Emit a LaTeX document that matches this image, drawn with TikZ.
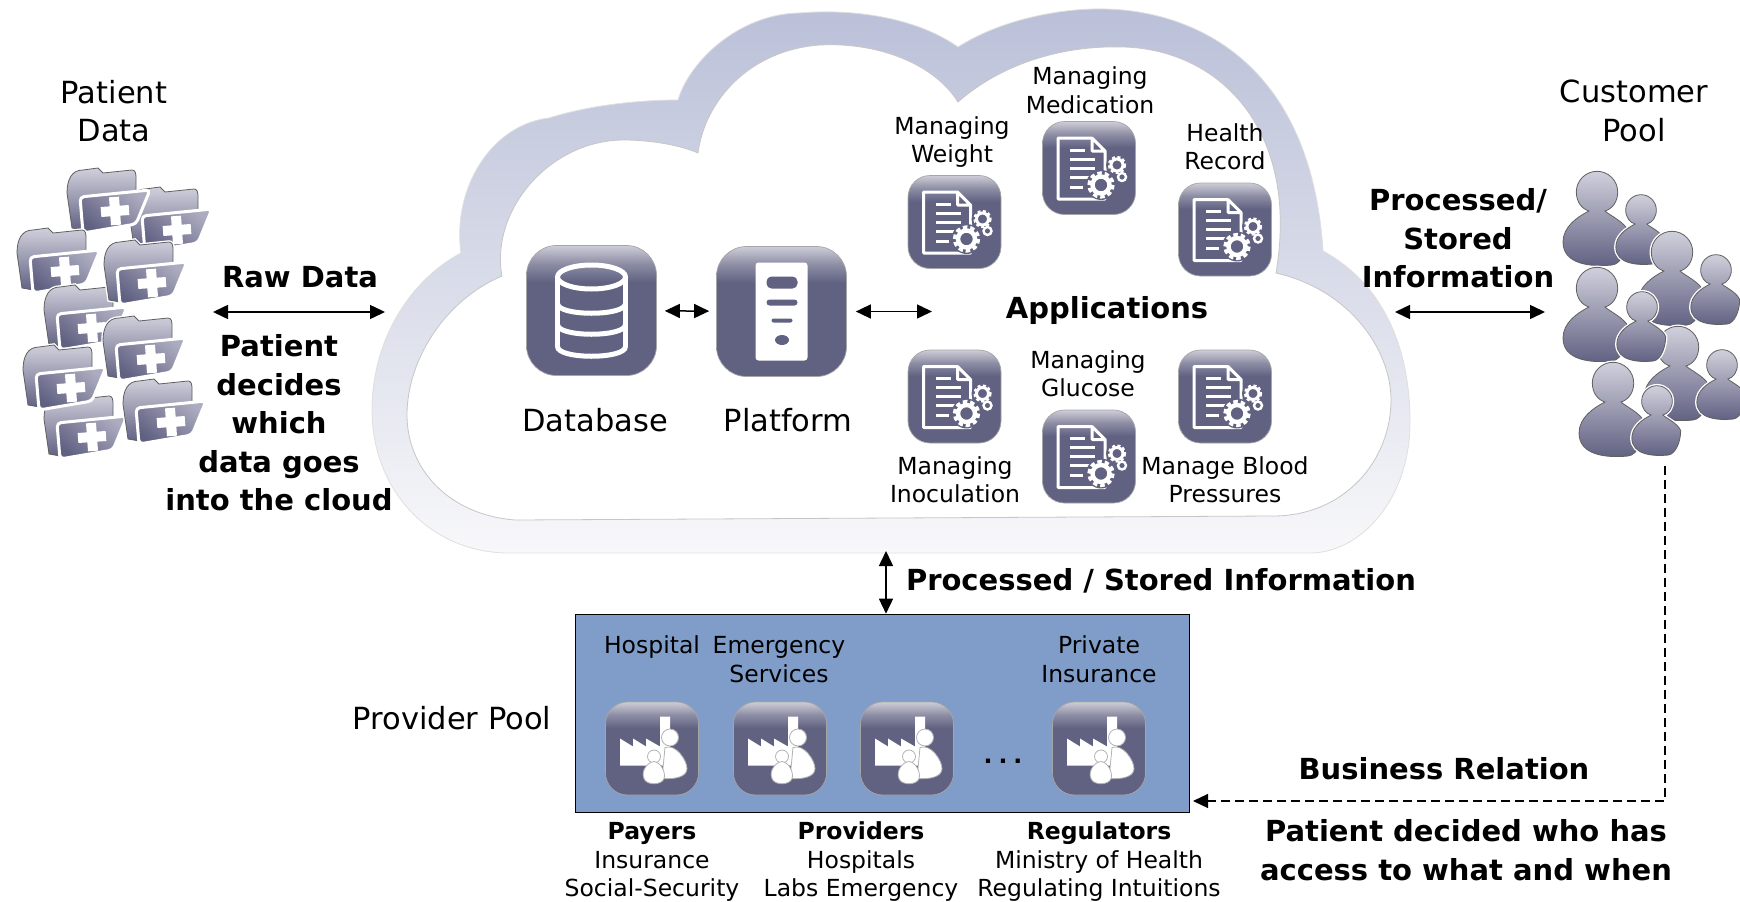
\documentclass[tikz,border=0pt]{standalone}
\usepackage{fontspec}
\setmainfont{DejaVu Sans}
\usepackage{tikz}
\usetikzlibrary{arrows.meta}
\definecolor{iconbody}{RGB}{97,98,130}
\definecolor{iconlight}{RGB}{205,205,216}
\definecolor{glyphlight}{RGB}{208,208,220}
\definecolor{glyphdark}{RGB}{96,96,130}
\definecolor{folderlight}{RGB}{172,172,192}
\definecolor{ringtop}{RGB}{186,192,216}
\definecolor{ringmid}{RGB}{222,225,236}
\definecolor{ringbot}{RGB}{248,248,250}
\definecolor{boxfill}{RGB}{128,157,201}
\pgfdeclareverticalshading{iconshade}{100bp}{color(0bp)=(iconbody); color(61bp)=(iconbody); color(68bp)=(iconbody!60!iconlight); color(75bp)=(iconlight); color(100bp)=(iconlight)}
\tikzset{
	bigtext/.style={align=center,inner sep=0pt,font=\fontsize{30.5}{38.5}\selectfont},
	bigbold/.style={align=center,inner sep=0pt,font=\fontsize{29}{38.5}\selectfont\bfseries},
	smalltext/.style={align=center,inner sep=0pt,font=\fontsize{23.5}{28.5}\selectfont},
	bigicon/.style={shading=iconshade,draw=gray!70,line width=.7pt,rounded corners=30pt,minimum size=130pt,inner sep=0pt},
	smallicon/.style={shading=iconshade,draw=gray!70,line width=.7pt,rounded corners=22pt,minimum size=93pt,inner sep=0pt},
	linkarrow/.style={line width=1.5pt,{Stealth[inset=0pt,length=15pt,width=14pt]}-{Stealth[inset=0pt,length=15pt,width=14pt]}},
	dashlink/.style={line width=1.3pt,dash pattern=on 9pt off 5pt,-{Stealth[inset=0pt,length=15pt,width=14pt]}},
	glyphfill/.style={draw=gray!75!black,line width=.8pt,top color=glyphlight,bottom color=glyphdark,preaction={draw=white,line width=3.5pt}}
}
% document with gears
\newcommand{\appglyph}[1]{
	\begin{scope}[shift={(#1.center)}]
		\draw[white,line width=3pt,line join=round] (3,-30) -- (-31,-30) -- (-31,31) -- (16,31) -- (16,-17) -- (3,-30) -- (3,-17) -- (16,-17);
		\foreach \yy/\xe in {-18/-4,-9/6,0/6,9/1,19/-6}
			\draw[white,line width=3pt] (-19,\yy) -- (\xe,\yy);
		\fill[iconbody] (12,17) circle (15) (28,-3) circle (11) (33,9) circle (7);
		\draw[white,line width=4.4pt] (12,17) circle (8.5);
		\draw[white,line width=3.4pt,dash pattern=on 4.5pt off 3pt] (12,17) circle (12);
		\draw[white,line width=3pt] (28,-3) circle (6);
		\draw[white,line width=2.2pt,dash pattern=on 3pt off 2.4pt] (28,-3) circle (8);
		\draw[white,line width=2.4pt] (33,9) circle (4);
	\end{scope}
}
% factory with two people
\newcommand{\orgglyph}[1]{
	\begin{scope}[shift={(#1.center)}]
		\fill[white] (-32,17) -- (-32,-10) -- (-19,-2) -- (-19,-10) -- (-6,-2) -- (-6,-10) -- (8,-2) -- (8,-32) -- (18,-32) -- (18,17) -- cycle;
		\path[fill=white,draw=gray!60,line width=.8pt] (18,-11) circle (8.5);
		\path[fill=white,draw=gray!60,line width=.8pt] (13,-1) .. controls (24,-5) and (35,12) .. (35,20) .. controls (35,28) and (24,31) .. (10,30) -- cycle;
		\path[fill=white,draw=gray!60,line width=.8pt] (2,8) circle (6.5);
		\path[fill=white,draw=gray!60,line width=.8pt] (2,13) .. controls (10,14) and (14,26) .. (12,30) .. controls (10,37) and (-6,37) .. (-8,30) .. controls (-11,24) and (-6,14) .. (2,13) -- cycle;
	\end{scope}
}
\newcommand{\folderglyph}[2]{
	\begin{scope}[shift={(#1,#2)}]
		\path[glyphfill] (-48,-18) .. controls (-48,-32) and (-43,-41) .. (-32,-41) -- (-17,-43) -- (-12,-38) -- (17,-41) .. controls (20,-41) and (21,-38) .. (21,-34) -- (21,-20) -- (-26,20) -- (-43,17) -- cycle;
		\path[draw=white,line width=3pt,top color=folderlight,bottom color=glyphdark,shading angle=-40,rounded corners=4pt] (-35,-14) -- (35,-21) -- (21,13) -- (-32,22) -- cycle;
		\draw[white,line width=10pt] (-14,1) -- (14,-1) (-1,-14) -- (1,14);
	\end{scope}
}
\newcommand{\personglyph}[3]{
	\begin{scope}[shift={(#1,#2)},scale=#3]
		\path[glyphfill] (-8,19) .. controls (-15,17) and (-20.7,10) .. (-20.7,0) .. controls (-20.7,-11.4) and (-11.4,-20.7) .. (0,-20.7) .. controls (11.4,-20.7) and (20.7,-11.4) .. (20.7,0) .. controls (20.7,10) and (15,17) .. (8,19) .. controls (12,23) and (28,30) .. (32,40) .. controls (32,55) and (25,72) .. (15,73) .. controls (-5,75) and (-34,73) .. (-34,50) .. controls (-34,35) and (-20,25) .. (-8,19) -- cycle;
	\end{scope}
}
\begin{document}
\begin{tikzpicture}[x=1pt,y=-1pt]
	\useasboundingbox (0,0) rectangle (1740,902);
	% cloud
	\shade[top color=ringtop,middle color=ringmid,bottom color=ringbot,draw=gray!25,line width=.8pt]
		(509,553) .. controls (430,553) and (372,490) .. (372,410) .. controls (372,340) and (410,280) .. (461,253)
		.. controls (452,190) and (490,125) .. (549,118) .. controls (590,105) and (640,100) .. (678,100)
		.. controls (690,60) and (740,14) .. (799,13) .. controls (860,8) and (920,20) .. (958,47)
		.. controls (1000,20) and (1060,8) .. (1104,9) .. controls (1180,10) and (1310,50) .. (1323,251)
		.. controls (1385,285) and (1410,350) .. (1410,422) .. controls (1410,500) and (1360,553) .. (1310,553) -- cycle;
	\path[fill=white,draw=gray!45,line width=.8pt]
		(515,520) .. controls (450,515) and (407,470) .. (407,415) .. controls (407,360) and (445,300) .. (502,276)
		.. controls (490,210) and (550,140) .. (624,140) .. controls (650,140) and (680,145) .. (698,153)
		.. controls (705,100) and (750,50) .. (820,45) .. controls (880,42) and (935,65) .. (958,102)
		.. controls (1000,65) and (1060,45) .. (1124,47) .. controls (1220,50) and (1300,130) .. (1276,273)
		.. controls (1350,290) and (1391,350) .. (1391,400) .. controls (1391,460) and (1345,516) .. (1273,516) -- cycle;
	% patient data
	\node[bigtext] (patient) at (114,111) {Patient\\Data};
	\folderglyph{177}{230}
	\folderglyph{115}{211}
	\folderglyph{65}{271}
	\folderglyph{92}{328}
	\folderglyph{152}{283}
	\folderglyph{92}{437}
	\folderglyph{71}{388}
	\folderglyph{151}{359}
	\folderglyph{171}{422}
	\node[bigbold] (raw) at (300,277) {Raw Data};
	\coordinate (rawl) at (213,312);
	\coordinate (rawr) at (385,312);
	\draw[linkarrow] (rawl) -- (rawr);
	\node[bigbold] (decides) at (279,423) {Patient\\decides\\which\\data goes\\into the cloud};
	% database and platform
	\node[bigicon] (db) at (591.5,310.5) {};
	\begin{scope}[shift={(db.center)},white,line width=5pt]
		\draw (0,-33.5) ellipse (34 and 12);
		\draw (-34,-33.5) -- (-34,36) (34,-33.5) -- (34,36);
		\draw (-34,-7) .. controls (-34,6) and (34,6) .. (34,-7);
		\draw (-34,14) .. controls (-34,27) and (34,27) .. (34,14);
		\draw (-34,36) .. controls (-34,49) and (34,49) .. (34,36);
	\end{scope}
	\node[bigicon] (platform) at (781.5,311.5) {};
	\begin{scope}[shift={(platform.center)}]
		\fill[white,rounded corners=3pt] (-26,-49) rectangle (26,49);
		\fill[iconbody,rounded corners=5pt] (-15,-35) rectangle (16,-23);
		\fill[iconbody,rounded corners=3pt] (-15,-12) rectangle (16,-6);
		\fill[iconbody,rounded corners=2pt] (-10,7) rectangle (11,11);
		\fill[iconbody] (0.5,28.5) ellipse (7 and 5);
	\end{scope}
	\node[bigtext] (dblabel) at (595,420) {Database};
	\node[bigtext] (pflabel) at (788,420) {Platform};
	\draw[linkarrow,shorten <=8pt,shorten >=7pt] (db) -- (platform);
	\coordinate (appsleft) at (932,311.5);
	\draw[linkarrow,shorten <=9pt] (platform.east) -- (appsleft);
	% applications
	\node[bigbold] (apps) at (1107,310) {Applications};
	\foreach \nm/\xx/\yy in {weight/954.5/222,medication/1089/168,health/1225/229.5,inoculation/954.5/396.5,glucose/1089/456.5,blood/1225/396.5}{
		\node[smallicon] (\nm) at (\xx,\yy) {};
		\appglyph{\nm}
	}
	\node[smalltext] (weightlabel) at (952,142) {Managing\\Weight};
	\node[smalltext] (medicationlabel) at (1090,90) {Managing\\Medication};
	\node[smalltext] (healthlabel) at (1225,146.5) {Health\\Record};
	\node[smalltext] (inoculationlabel) at (955,479.5) {Managing\\Inoculation};
	\node[smalltext] (glucoselabel) at (1088,373.5) {Managing\\Glucose};
	\node[smalltext] (bloodlabel) at (1225,479.5) {Manage Blood\\Pressures};
	% customer pool
	\node[bigtext] (customer) at (1634,111) {Customer\\Pool};
	\personglyph{1597}{192}{1}
	\personglyph{1641}{210}{.74}
	\personglyph{1672}{252}{1}
	\personglyph{1716}{270}{.74}
	\personglyph{1678}{347}{1}
	\personglyph{1722}{365}{.74}
	\personglyph{1597}{288}{1}
	\personglyph{1642}{307}{.74}
	\personglyph{1613}{383}{1}
	\personglyph{1657}{401}{.74}
	\node[bigbold] (stored) at (1458,238.5) {Processed/\\Stored\\Information};
	\coordinate (procl) at (1395,312);
	\coordinate (procr) at (1545,312);
	\draw[linkarrow] (procl) -- (procr);
	% provider pool
	\node[draw=black,line width=1.6pt,fill=boxfill,minimum width=614pt,minimum height=198pt,inner sep=0pt] (provider) at (882.5,713.5) {};
	\foreach \nm/\xx in {hospital/652,emergency/780,other/907,insurance/1099}{
		\node[smallicon] (\nm) at (\xx,748.5) {};
		\orgglyph{\nm}
	}
	\node[bigtext] (providerlabel) at (452,718) {Provider Pool};
	\node[smalltext] (hospitallabel) at (652,647) {Hospital};
	\node[smalltext] (emergencylabel) at (779,659.5) {Emergency\\Services};
	\node[smalltext] (insurancelabel) at (1099,659) {Private\\Insurance};
	\node[smalltext] (dots) at (1003,761) {\textbf{.\hspace{6pt}.\hspace{6pt}.}};
	\coordinate (cloudgap) at (886,551);
	\draw[linkarrow] (cloudgap) -- (cloudgap |- provider.north);
	\node[bigbold] (stored2) at (1161,581) {Processed / Stored Information};
	\node[smalltext] (payers) at (652,862) {\textbf{Payers}\\Insurance\\Social-Security};
	\node[smalltext] (providers) at (861,862) {\textbf{Providers}\\Hospitals\\Labs Emergency};
	\node[smalltext] (regulators) at (1099,862) {\textbf{Regulators}\\Ministry of Health\\Regulating Intuitions};
	% business relation
	\coordinate (poolfoot) at (1665,466);
	\coordinate (bizend) at (1193,801);
	\draw[dashlink] (poolfoot) |- (bizend);
	\node[bigbold] (business) at (1444,769) {Business Relation};
	\node[bigbold] (who) at (1466,850) {Patient decided who has\\access to what and when};
\end{tikzpicture}
\end{document}
